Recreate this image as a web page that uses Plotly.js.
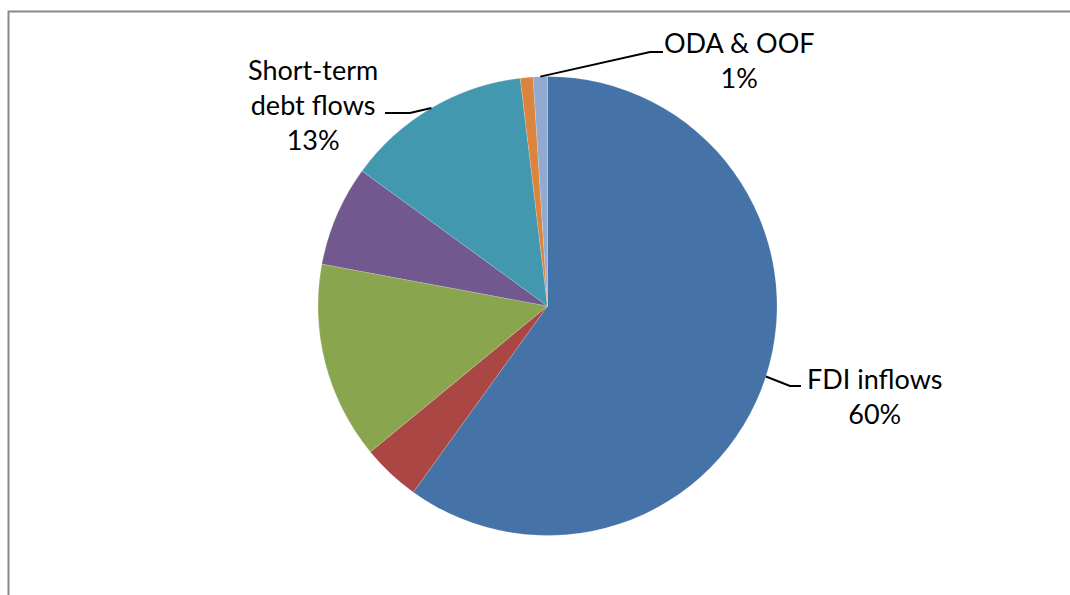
<!DOCTYPE html>
<html>
<head>
<meta charset="utf-8">
<script src="https://cdn.plot.ly/plotly-3.0.1.min.js"></script>
<style>html,body{margin:0;padding:0;background:#fff;}#chart{width:1070px;height:595px;}</style>
</head>
<body>
<div id="chart"></div>
<script>
// ---- data ----
var categories = ["FDI inflows", "Portfolio equity", "Bank lending", "Bonds", "Short-term debt flows", "Other", "ODA & OOF"];
var values = [60, 4.1, 13.9, 7.1, 13.1, 0.9, 1.0];
var colors = ["#4572A7", "#AA4643", "#89A54E", "#71588F", "#4198AF", "#DB843D", "#93A9CF"];
var labelText = {"FDI inflows": "FDI inflows", "Short-term debt flows": "Short-term<br>debt flows", "ODA & OOF": "ODA & OOF"};

// ---- layout config ----
var W = 1070, H = 595;
var cx = 547.5, cy = 306, r = 229.5;
// label placement: text centre, elbow and line end (pixels)
var labelPlace = {
  "FDI inflows": {tx: 874, ty: 396, ex: 790, ey: 386, lx: 801, ly: 386},
  "Short-term debt flows": {tx: 313, ty: 104, ex: 410, ey: 113, lx: 385, ly: 113},
  "ODA & OOF": {tx: 739, ty: 60, ex: 650, ey: 52, lx: 663, ly: 52}
};
function px(x) { return x / W; }
function py(y) { return 1 - y / H; }

var total = values.reduce(function (a, b) { return a + b; }, 0);
var annotations = [], shapes = [];
var cum = 0;
values.forEach(function (v, i) {
  var name = categories[i];
  var mid = (cum + v / 2) / total * 2 * Math.PI;
  cum += v;
  if (!labelText[name]) return;
  var pct = Math.round(v / total * 100) + "%";
  var p = labelPlace[name];
  var sx = cx + r * Math.sin(mid), sy = cy - r * Math.cos(mid);
  annotations.push({
    xref: "paper", yref: "paper", x: px(p.tx), y: py(p.ty),
    xanchor: "center", yanchor: "middle", showarrow: false, align: "center",
    text: labelText[name] + "<br>" + pct,
    font: {family: "Lato, sans-serif", size: 27, color: "#000"}
  });
  shapes.push({
    type: "path", xref: "paper", yref: "paper",
    path: "M" + px(sx) + "," + py(sy) + " L" + px(p.ex) + "," + py(p.ey) + " L" + px(p.lx) + "," + py(p.ly),
    line: {color: "#000", width: 2}
  });
});
shapes.push({
  type: "rect", xref: "paper", yref: "paper",
  x0: px(8.5), x1: px(1080), y0: py(11.5), y1: py(610),
  line: {color: "#8a8a8a", width: 2}, fillcolor: "rgba(0,0,0,0)"
});

var trace = {
  type: "pie",
  labels: categories,
  values: values,
  sort: false,
  direction: "clockwise",
  rotation: 0,
  textinfo: "none",
  hoverinfo: "label+percent",
  marker: {colors: colors, line: {color: "rgba(255,255,255,0.35)", width: 0.5}},
  domain: {x: [px(cx - r), px(cx + r)], y: [py(cy + r), py(cy - r)]},
  showlegend: false
};

Plotly.newPlot("chart", [trace], {
  width: W, height: H,
  margin: {l: 0, r: 0, t: 0, b: 0},
  paper_bgcolor: "#fff",
  showlegend: false,
  annotations: annotations,
  shapes: shapes
}, {displayModeBar: false, staticPlot: true});
</script>
</body>
</html>
